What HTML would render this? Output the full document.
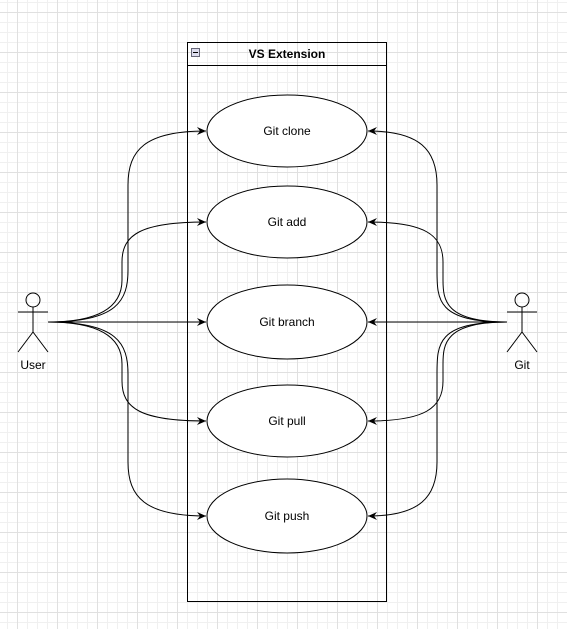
<!DOCTYPE html>
<html><head><style>
html,body{margin:0;padding:0;background:#fff;}
body{width:567px;height:629px;overflow:hidden;}
</style></head><body>
<svg width="567" height="629" xmlns="http://www.w3.org/2000/svg" font-family="Liberation Sans, Arial, sans-serif">
<defs>
<pattern id="minor" width="10" height="10" patternUnits="userSpaceOnUse" x="7" y="2">
<path d="M0 0.5H10M0.5 0V10" stroke="#f0f0f0" stroke-width="1" fill="none"/>
</pattern>
<pattern id="major" width="40" height="40" patternUnits="userSpaceOnUse" x="17" y="12">
<path d="M0 0.5H40M0.5 0V40" stroke="#e0e0e0" stroke-width="1" fill="none"/>
</pattern>
<marker id="a" markerWidth="10" markerHeight="10" refX="9" refY="5" orient="auto" markerUnits="userSpaceOnUse">
<path d="M0,1 L9,5 L0,9 L3,5 Z" fill="#000"/>
</marker>
</defs>
<rect width="567" height="629" fill="url(#minor)"/>
<rect width="567" height="629" fill="url(#major)"/>

<rect x="187.5" y="42.5" width="199" height="559" fill="none" stroke="#000"/>
<line x1="187.5" y1="65.5" x2="386.5" y2="65.5" stroke="#000"/>
<rect x="191.5" y="48.5" width="8" height="8" fill="#dde" stroke="#667"/>
<line x1="193" y1="52.5" x2="198" y2="52.5" stroke="#000"/>
<text x="287" y="58" font-size="12" font-weight="bold" text-anchor="middle">VS Extension</text>

<g fill="#fff" stroke="#000">
<ellipse cx="287" cy="131" rx="80" ry="36"/>
<ellipse cx="287" cy="222" rx="80" ry="36"/>
<ellipse cx="287" cy="322" rx="80" ry="37"/>
<ellipse cx="287" cy="421" rx="80" ry="36"/>
<ellipse cx="287" cy="516" rx="80" ry="37"/>
</g>
<g font-size="12" text-anchor="middle">
<text x="287" y="135">Git clone</text>
<text x="287" y="226">Git add</text>
<text x="287" y="326">Git branch</text>
<text x="287" y="425">Git pull</text>
<text x="287" y="520">Git push</text>
</g>

<g fill="none" stroke="#000" stroke-width="1">
<path d="M48,322 C118,322 128,300 128,270 L128,185 C128,150 145,131 206,131" marker-end="url(#a)"/>
<path d="M48,322 C110,322 122,300 122,280 L122,262 C122,235 140,222 206,222" marker-end="url(#a)"/>
<path d="M48,322 L206,322" marker-end="url(#a)"/>
<path d="M48,322 C110,322 122,344 122,364 L122,381 C122,408 140,421 206,421" marker-end="url(#a)"/>
<path d="M48,322 C118,322 128,344 128,374 L128,462 C128,497 145,516 206,516" marker-end="url(#a)"/>
<path d="M507,322 C437,322 437,300 437,270 L437,185 C437,150 420,131 368,131" marker-end="url(#a)"/>
<path d="M507,322 C445,322 443,300 443,280 L443,262 C443,235 425,222 368,222" marker-end="url(#a)"/>
<path d="M507,322 L368,322" marker-end="url(#a)"/>
<path d="M507,322 C445,322 443,344 443,364 L443,381 C443,408 425,421 368,421" marker-end="url(#a)"/>
<path d="M507,322 C437,322 437,344 437,374 L437,462 C437,497 420,516 368,516" marker-end="url(#a)"/>

<circle cx="33" cy="300" r="7"/>
<path d="M33,307 V332 M18,312 H48 M33,332 L18,352 M33,332 L48,352"/>
<circle cx="522" cy="300" r="7"/>
<path d="M522,307 V332 M507,312 H537 M522,332 L507,352 M522,332 L537,352"/>
</g>
<text x="33" y="369" font-size="12" text-anchor="middle">User</text>
<text x="522" y="369" font-size="12" text-anchor="middle">Git</text>
</svg>
</body></html>
